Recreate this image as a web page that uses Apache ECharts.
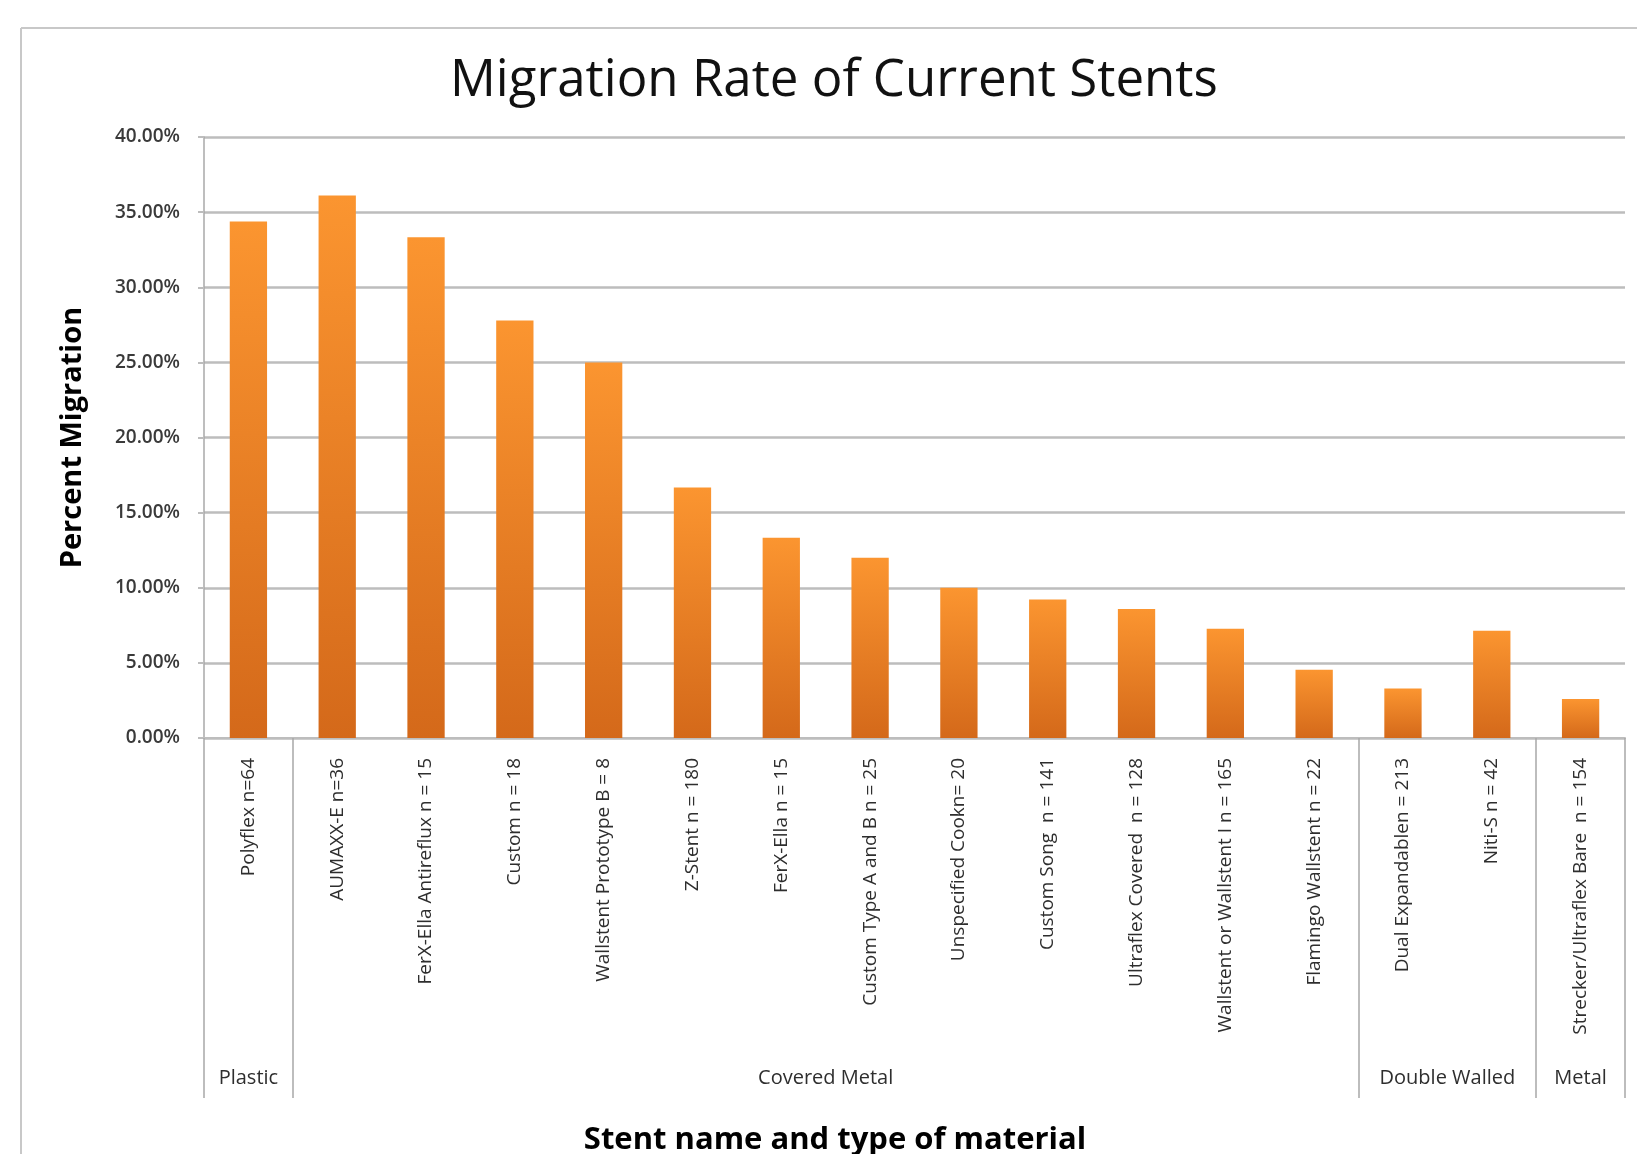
<!DOCTYPE html>
<html>
<head>
<meta charset="utf-8">
<script src="https://cdn.jsdelivr.net/npm/echarts@6/dist/echarts.min.js"></script>
<style>
html,body{margin:0;padding:0;background:#fff;}
#chart{width:1637px;height:1154px;}
</style>
</head>
<body>
<div id="chart"></div>
<script>
// Categories (stent name and n)
const categories = [
  'Polyflex n=64',
  'AUMAXX-E n=36',
  'FerX-Ella Antireflux n = 15',
  'Custom n = 18',
  'Wallstent Prototype B = 8',
  'Z-Stent n = 180',
  'FerX-Ella n = 15',
  'Custom Type A and B n = 25',
  'Unspecified Cookn= 20',
  'Custom Song  n = 141',
  'Ultraflex Covered  n = 128',
  'Wallstent or Wallstent I n = 165',
  'Flamingo Wallstent n = 22',
  'Dual Expandablen = 213',
  'Niti-S n = 42',
  'Strecker/Ultraflex Bare  n = 154'
];
// Migration rate (fraction)
const migration = [0.3438, 0.3611, 0.3333, 0.2778, 0.25, 0.1667, 0.1333, 0.12, 0.10, 0.0922, 0.0859, 0.0727, 0.0455, 0.0329, 0.0714, 0.026];
// Material groups: names and category-index boundaries
const groupNames = ['Plastic', 'Covered Metal', 'Double Walled', 'Metal'];
const groupBounds = [0, 1, 13, 15, 16];
// Y ticks
const yMin = 0, yMax = 0.40, yStep = 0.05;

const groupCenters = groupNames.map((_, i) => (groupBounds[i] + groupBounds[i + 1]) / 2);

const FONT = '"Open Sans", "Noto Sans", sans-serif';
const chart = echarts.init(document.getElementById('chart'), null, {renderer: 'canvas'});

const option = {
  backgroundColor: '#ffffff',
  animation: false,
  title: {
    text: 'Migration Rate of Current Stents',
    left: 450,
    top: 56,
    padding: 0,
    textStyle: {fontFamily: FONT, fontSize: 51, fontWeight: 'normal', color: '#111111'}
  },
  grid: {left: 204, right: 12, top: 137, bottom: 416, containLabel: false},
  xAxis: [
    {
      type: 'category',
      data: categories,
      axisLine: {show: true, lineStyle: {color: '#bdbdbd', width: 2}},
      axisTick: {show: false},
      axisLabel: {
        rotate: 90, margin: 20, interval: 0,
        fontFamily: FONT, fontSize: 19, color: '#2e2e2e'
      },
      splitLine: {show: false}
    },
    {
      type: 'value',
      position: 'bottom',
      min: 0, max: categories.length,
      axisLine: {show: false},
      axisTick: {
        show: true, customValues: groupBounds, length: 360,
        lineStyle: {color: '#a8a8a8', width: 1.5}
      },
      axisLabel: {
        show: true, customValues: groupCenters, margin: 330,
        fontFamily: FONT, fontSize: 20, color: '#2e2e2e',
        formatter: function (v) {
          const i = groupCenters.indexOf(v);
          return i >= 0 ? groupNames[i] : '';
        }
      },
      splitLine: {show: false}
    }
  ],
  yAxis: {
    type: 'value',
    min: yMin, max: yMax, interval: yStep,
    name: 'Percent Migration',
    nameLocation: 'middle',
    nameGap: 117,
    nameTextStyle: {fontFamily: FONT, fontSize: 29, fontWeight: 'bold', color: '#000000'},
    axisLine: {show: true, lineStyle: {color: '#a8a8a8', width: 1.5}},
    axisTick: {show: true, length: 6, lineStyle: {color: '#bdbdbd', width: 2}},
    axisLabel: {
      margin: 24, fontFamily: FONT, fontSize: 19, fontWeight: 600, color: '#3a3a3a',
      formatter: v => (v * 100).toFixed(2) + '%'
    },
    splitLine: {show: true, lineStyle: {color: '#bdbdbd', width: 2.5}}
  },
  series: [{
    type: 'bar',
    data: migration,
    barWidth: '42%',
    xAxisIndex: 0,
    itemStyle: {
      color: new echarts.graphic.LinearGradient(0, 0, 0, 1, [
        {offset: 0, color: '#fb9530'},
        {offset: 1, color: '#d4691a'}
      ])
    }
  }],
  graphic: [
    {type: 'line', shape: {x1: 21, y1: 28, x2: 1637, y2: 28}, style: {stroke: '#c8c8c8', lineWidth: 2}},
    {type: 'line', shape: {x1: 21, y1: 28, x2: 21, y2: 1154}, style: {stroke: '#c8c8c8', lineWidth: 2}},
    {type: 'text', x: 835, y: 1140, style: {
      text: 'Stent name and type of material', textAlign: 'center', textVerticalAlign: 'middle',
      fontFamily: FONT, fontSize: 31, fontWeight: 'bold', fill: '#000000'
    }}
  ]
};
chart.setOption(option);
</script>
</body>
</html>
